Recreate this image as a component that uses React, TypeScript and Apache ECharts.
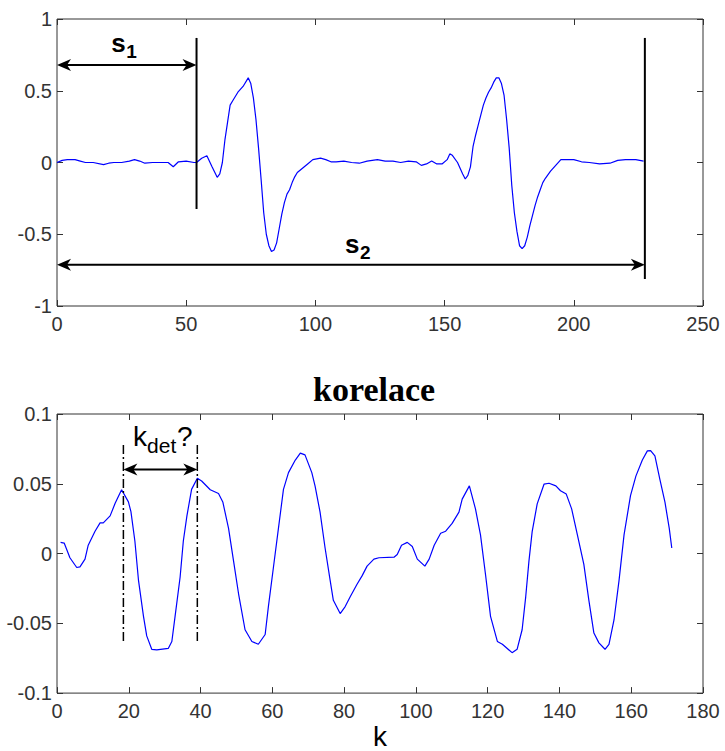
import React, { useEffect, useRef } from "react";
import * as echarts from "echarts";

// ---- top chart: signal ----
const sigX = [0, 2, 4, 7, 9, 11, 14, 18, 20, 22, 25, 28, 30, 32, 34, 37, 41, 43, 45, 47, 50, 53, 54, 56, 58, 60, 62, 63, 64, 65, 66, 67, 68, 70, 72, 74, 75, 76, 77, 78, 79, 80, 81, 82, 83, 84, 85, 86, 87, 88, 89, 90, 91, 92, 93, 95, 97, 99, 102, 104, 106, 108, 111, 114, 117, 120, 124, 127, 130, 133, 136, 139, 141, 143, 145, 147, 149, 151, 152, 153, 155, 157, 158, 159, 160, 161, 162, 163, 164, 165, 166, 167, 168, 169, 170, 171, 172, 173, 174, 175, 176, 177, 178, 179, 180, 181, 182, 183, 184, 185, 186, 187, 188, 189, 191, 193, 195, 197, 200, 203, 206, 210, 214, 217, 220, 224, 227];
const sigY = [0.0, 0.015, 0.02, 0.02, 0.01, 0.0, 0.0, -0.015, -0.005, 0.0, 0.0, 0.01, 0.02, 0.01, -0.005, 0.0, 0.0, 0.0, -0.03, 0.005, 0.01, 0.0, 0.0, 0.03, 0.047, -0.03, -0.103, -0.08, 0.0, 0.16, 0.28, 0.4, 0.43, 0.49, 0.53, 0.59, 0.55, 0.45, 0.3, 0.1, -0.12, -0.35, -0.5, -0.58, -0.62, -0.61, -0.56, -0.46, -0.36, -0.28, -0.22, -0.19, -0.14, -0.1, -0.07, -0.04, -0.01, 0.02, 0.03, 0.02, 0.005, 0.005, 0.01, 0.0, -0.005, 0.01, 0.02, 0.01, 0.01, 0.0, 0.01, 0.005, -0.02, -0.01, 0.01, -0.01, -0.01, 0.02, 0.06, 0.05, 0.0, -0.08, -0.115, -0.09, -0.03, 0.11, 0.19, 0.26, 0.33, 0.4, 0.45, 0.49, 0.52, 0.56, 0.59, 0.59, 0.55, 0.47, 0.3, 0.1, -0.16, -0.35, -0.48, -0.58, -0.6, -0.58, -0.52, -0.44, -0.37, -0.3, -0.24, -0.19, -0.14, -0.11, -0.06, -0.02, 0.02, 0.02, 0.02, 0.005, 0.0, -0.01, -0.005, 0.015, 0.02, 0.02, 0.01];

// ---- bottom chart: correlation ----
const corrK = [1, 2, 3.6, 5.5, 6.4, 7.8, 8.7, 10.6, 12, 12.9, 14.8, 16.2, 18, 19.9, 20.6, 21.7, 22.7, 24.1, 25, 26.4, 27.8, 31, 32, 32.9, 34.3, 35.2, 36.2, 37.5, 39.1, 40.3, 42.7, 45, 46.2, 47.8, 49.2, 50.6, 52.4, 54.3, 56.1, 58, 58.9, 60.3, 61.7, 63.1, 64.5, 66.4, 67.8, 69.1, 71, 71.9, 73.3, 74.7, 76.1, 77, 78.9, 80.3, 81.7, 83.6, 85, 86.4, 88.3, 89.7, 93.9, 94.8, 96, 97.6, 99, 100.4, 102.5, 103.7, 105.1, 106.9, 108.3, 110.1, 112, 112.9, 114.9, 116.6, 118, 119.4, 120.8, 122.7, 124.1, 126.8, 128.2, 129.6, 130.6, 131.5, 132.4, 133.8, 135.7, 137.1, 139, 140.3, 141.9, 143.4, 145, 146.8, 148.2, 149.6, 151, 152.7, 153.8, 155.2, 156.6, 158, 159.8, 161.3, 163.1, 164.5, 165.4, 166.6, 168, 169.4, 170.6, 171.3];
const corrY = [0.008, 0.0075, -0.003, -0.01, -0.0096, -0.004, 0.006, 0.016, 0.022, 0.022, 0.027, 0.036, 0.0457, 0.037, 0.03, 0.009, -0.019, -0.045, -0.059, -0.0686, -0.069, -0.068, -0.063, -0.045, -0.017, 0.009, 0.027, 0.046, 0.054, 0.052, 0.0457, 0.043, 0.037, 0.018, -0.0054, -0.029, -0.0546, -0.063, -0.065, -0.058, -0.038, -0.01, 0.018, 0.046, 0.058, 0.067, 0.072, 0.0707, 0.058, 0.0485, 0.0297, 0.004, -0.019, -0.0335, -0.043, -0.038, -0.031, -0.022, -0.016, -0.009, -0.004, -0.003, -0.0026, -0.0007, 0.006, 0.008, 0.005, -0.004, -0.009, -0.004, 0.006, 0.0145, 0.016, 0.0216, 0.0297, 0.039, 0.0485, 0.032, 0.0134, -0.015, -0.045, -0.063, -0.065, -0.071, -0.0686, -0.0546, -0.031, -0.0054, 0.0157, 0.0356, 0.0497, 0.0504, 0.0485, 0.045, 0.0426, 0.032, 0.0134, -0.0077, -0.0335, -0.057, -0.064, -0.0686, -0.065, -0.0476, -0.0194, 0.0134, 0.0415, 0.0555, 0.067, 0.0736, 0.0738, 0.07, 0.053, 0.0368, 0.018, 0.004];

// ---- ticks ----
const topXTicks = [0, 50, 100, 150, 200, 250];
const topYTicks = [-1, -0.5, 0, 0.5, 1];
const botXTicks = [0, 20, 40, 60, 80, 100, 120, 140, 160, 180];
const botYTicks = [-0.1, -0.05, 0, 0.05, 0.1];

// ---- annotations (data units) ----
const s1End = 54;
const s2End = 227.5;
const s1ArrowY = 0.68;
const s2ArrowY = -0.712;
const s1LineY = [0.868, -0.324];
const s2LineY = [0.868, -0.812];
const kDet = [18.5, 39.1];
const kDetLineY = [0.0778, -0.0628];
const kDetArrowY = 0.0602;

const titleText = "korelace";
const xName2 = "k";

const labelFont = "'Liberation Sans', Arial, sans-serif";
const frameColor = "#333333";

function axisCommon(ticks: number[], gridIndex: number, position: string, showLabels: boolean, margin: number) {
  const interval = ticks[1] - ticks[0];
  return {
    type: "value",
    gridIndex,
    position,
    min: ticks[0],
    max: ticks[ticks.length - 1],
    interval,
    axisLine: { show: false, onZero: false },
    axisTick: { show: true, inside: true, length: 6, lineStyle: { color: frameColor, width: 1 } },
    splitLine: { show: false },
    axisLabel: {
      show: showLabels,
      fontSize: 20,
      fontFamily: labelFont,
      color: "#333333",
      margin,
      showMinLabel: true,
      showMaxLabel: true,
    },
  };
}

export default function App() {
  const ref = useRef<HTMLDivElement>(null);
  useEffect(() => {
    if (!ref.current) return;
    const chart = echarts.init(ref.current, null, { renderer: "svg" });
    const topData = sigX.map((x, i) => [x, sigY[i]]);
    const botData = corrK.map((x, i) => [x, corrY[i]]);

    const xAxes: any[] = [
      axisCommon(topXTicks, 0, "bottom", true, 8),
      axisCommon(topXTicks, 0, "top", false, 8),
      {
        ...axisCommon(botXTicks, 1, "bottom", true, 8),
        name: xName2,
        nameLocation: "middle",
        nameGap: 25,
        nameTextStyle: { fontSize: 28, fontFamily: labelFont, color: "#000" },
      },
      axisCommon(botXTicks, 1, "top", false, 8),
    ];
    const yAxes: any[] = [
      axisCommon(topYTicks, 0, "left", true, 5),
      axisCommon(topYTicks, 0, "right", false, 5),
      axisCommon(botYTicks, 1, "left", true, 5),
      axisCommon(botYTicks, 1, "right", false, 5),
    ];

    chart.setOption({
      animation: false,
      backgroundColor: "#ffffff",
      title: {
        text: titleText,
        left: 313,
        top: 372,
        padding: 0,
        textStyle: { fontFamily: "'Liberation Serif', 'Times New Roman', serif", fontWeight: "bold", fontSize: 34, color: "#000" },
      },
      grid: [
        { left: 57, right: 22, top: 19, height: 287, show: true, borderColor: frameColor, borderWidth: 1, backgroundColor: "#fff" },
        { left: 57, right: 22, top: 414, height: 285, show: true, borderColor: frameColor, borderWidth: 1, backgroundColor: "#fff" },
      ],
      xAxis: xAxes,
      yAxis: yAxes,
      series: [
        {
          type: "line",
          xAxisIndex: 0,
          yAxisIndex: 0,
          data: topData,
          showSymbol: false,
          lineStyle: { color: "#0000ff", width: 1.2 },
          z: 3,
        },
        {
          type: "line",
          xAxisIndex: 2,
          yAxisIndex: 2,
          data: botData,
          showSymbol: false,
          lineStyle: { color: "#0000ff", width: 1.2 },
          z: 3,
        },
      ],
    });

    const p0 = (x: number, y: number) => chart.convertToPixel({ gridIndex: 0 } as any, [x, y]) as number[];
    const p1 = (x: number, y: number) => chart.convertToPixel({ gridIndex: 1 } as any, [x, y]) as number[];

    const head = (tip: number[], dir: number) => ({
      type: "polygon",
      shape: {
        points: [
          [tip[0], tip[1]],
          [tip[0] - dir * 14, tip[1] - 6],
          [tip[0] - dir * 10, tip[1]],
          [tip[0] - dir * 14, tip[1] + 6],
        ],
      },
      style: { fill: "#000" },
      z: 10,
    });
    const dblArrow = (a: number[], b: number[]) => [
      { type: "line", shape: { x1: a[0] + 8, y1: a[1], x2: b[0] - 8, y2: b[1] }, style: { stroke: "#000", lineWidth: 2 }, z: 10 },
      head(a, -1),
      head(b, 1),
    ];
    const vline = (a: number[], b: number[], dash?: number[]) => ({
      type: "line",
      shape: { x1: a[0], y1: a[1], x2: b[0], y2: b[1] },
      style: { stroke: "#000", lineWidth: dash ? 1.5 : 2, lineDash: dash },
      z: 10,
    });
    const txt = (x: number, y: number, text: string, size: number, bold: boolean) => ({
      type: "text",
      x,
      y,
      style: {
        text,
        fill: "#000",
        font: `${bold ? "bold " : ""}${size}px 'Liberation Sans', Arial, sans-serif`,
        textAlign: "left",
        textVerticalAlign: "bottom",
      },
      z: 11,
    });

    const a1 = p0(0, s1ArrowY);
    const b1 = p0(s1End, s1ArrowY);
    const a2 = p0(0, s2ArrowY);
    const b2 = p0(s2End, s2ArrowY);
    const l1a = p0(s1End, s1LineY[0]);
    const l1b = p0(s1End, s1LineY[1]);
    const l2a = p0(s2End, s2LineY[0]);
    const l2b = p0(s2End, s2LineY[1]);
    const s1pos = p0(21, 0.77);
    const s2pos = p0(111.5, -0.63);

    const ka = p1(kDet[0], kDetArrowY);
    const kb = p1(kDet[1], kDetArrowY);
    const kl1a = p1(kDet[0], kDetLineY[0]);
    const kl1b = p1(kDet[0], kDetLineY[1]);
    const kl2a = p1(kDet[1], kDetLineY[0]);
    const kl2b = p1(kDet[1], kDetLineY[1]);
    const kpos = p1(21.2, 0.0764);

    const dashDot = [9, 3, 2, 3];

    chart.setOption({
      graphic: [
        ...dblArrow(a1, b1),
        ...dblArrow(a2, b2),
        vline(l1a, l1b),
        vline(l2a, l2b),
        txt(s1pos[0], s1pos[1] + 4, "s", 26, true),
        txt(s1pos[0] + 15, s1pos[1] + 9, "1", 19, true),
        txt(s2pos[0], s2pos[1] + 4, "s", 26, true),
        txt(s2pos[0] + 15, s2pos[1] + 9, "2", 19, true),
        vline(kl1a, kl1b, dashDot),
        vline(kl2a, kl2b, dashDot),
        ...dblArrow(ka, kb),
        txt(kpos[0], kpos[1] + 4, "k", 28, false),
        txt(kpos[0] + 14, kpos[1] + 9, "det", 21, false),
        txt(kpos[0] + 44, kpos[1] + 4, "?", 28, false),
      ],
    });

    return () => chart.dispose();
  }, []);
  return <div ref={ref} style={{ position: "fixed", left: 0, top: 0, width: 725, height: 751 }} />;
}
